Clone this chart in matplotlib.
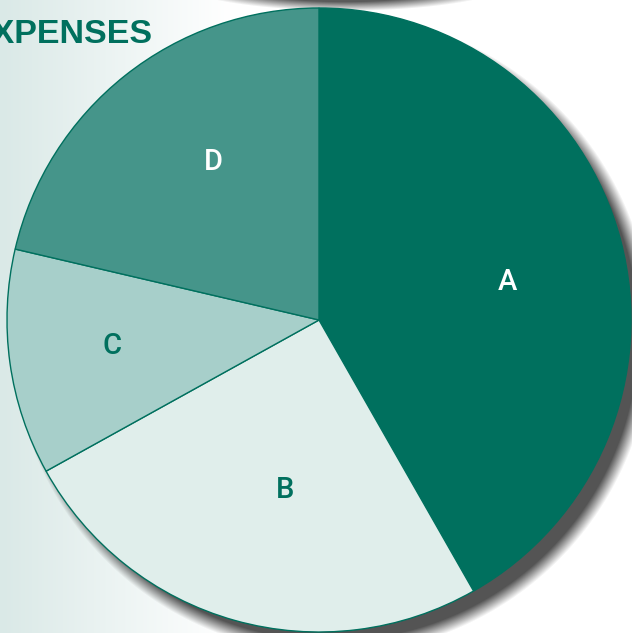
import numpy as np
import matplotlib
matplotlib.use("Agg")
import matplotlib.pyplot as plt

# ---- data ----
categories = ["A", "B", "C", "D"]
shares = [41.75, 25.2, 11.7, 21.35]
slice_colors = ["#00705E", "#E0EEEB", "#A7CFCA", "#45958A"]
label_colors = ["white", "#00705E", "#00705E", "white"]
title_text = "EXPENSES"

# ---- layout (pixel coords) ----
W, H = 632, 633
cx, cy, R = 319, 320, 312
label_pos = [(507, 282), (285, 490), (112, 346), (213, 162)]

fig = plt.figure(figsize=(W / 100, H / 100), dpi=100)
ax = fig.add_axes([0, 0, 1, 1])
ax.set_xlim(0, W)
ax.set_ylim(0, H)
ax.axis("off")

# background gradient (light teal at left fading to white)
xs = np.linspace(0, W, W)
t = np.clip(xs / 230.0, 0, 1)
c0 = np.array([0xDA, 0xE9, 0xE7]) / 255.0
c1 = np.array([1.0, 1.0, 1.0])
row = (c0[None, :] * (1 - t[:, None]) + c1[None, :] * t[:, None])
bg = np.repeat(row[None, :, :], 2, axis=0)
ax.imshow(bg, extent=(0, W, 0, H), aspect="auto", zorder=0, interpolation="bilinear")

# shadows (pie drop shadow + top shadow of an element above); row 0 = top of image
yy, xx = np.mgrid[0:H, 0:W] + 0.5
d = np.hypot(xx - (cx + 13), yy - (cy + 14))
a1 = 0.88 * np.clip((R - d) / 14.0 + 0.6, 0, 1)
dn = np.sqrt(((xx - 345) / 170.0) ** 2 + ((yy + 20) / 31.0) ** 2)
a2 = 0.85 * np.clip((1 - dn) / 0.3, 0, 1)
alpha = np.maximum(a1, a2)
sh = np.zeros((H, W, 4))
sh[..., 0:3] = 0x3C / 255.0
sh[..., 3] = alpha
ax.imshow(sh, extent=(0, W, 0, H), origin="upper", aspect="auto", zorder=1,
          interpolation="bilinear")

# pie
wedges, _ = ax.pie(shares, colors=slice_colors, startangle=90, counterclock=False,
                   center=(cx, H - cy), radius=R,
                   wedgeprops=dict(edgecolor="#00705E", linewidth=1.0))
for w in wedges:
    w.set_zorder(2)
ax.set_xlim(0, W)
ax.set_ylim(0, H)
ax.set_aspect("auto")
ax.axis("off")

for lab, (px, py), col in zip(categories, label_pos, label_colors):
    ax.text(px, H - py, lab, color=col, fontsize=21, fontfamily="Roboto",
            fontweight="medium", ha="center", va="center", zorder=3)

ax.text(153, H - 43, title_text, color="#00705E", fontsize=24.5,
        fontfamily="Liberation Sans", fontweight="bold", ha="right",
        va="baseline", zorder=3)

fig.savefig("out.png", dpi=100)
